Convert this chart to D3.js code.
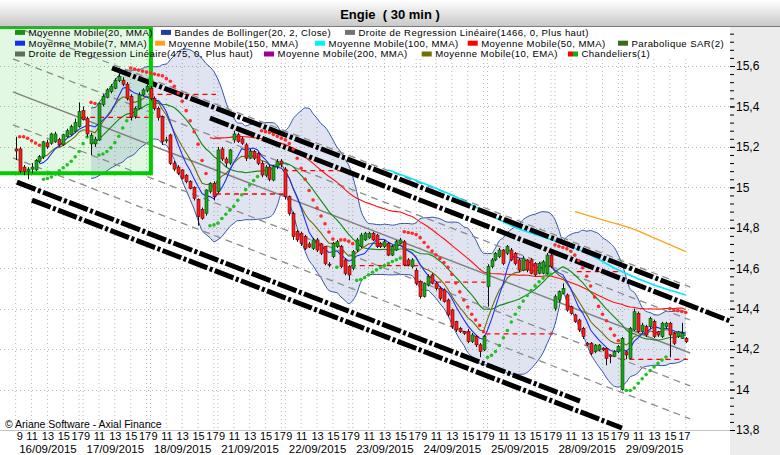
<!DOCTYPE html>
<html><head><meta charset="utf-8">
<script src="https://cdn.jsdelivr.net/npm/d3@7/dist/d3.min.js"></script>
<style>
html,body{margin:0;padding:0;background:#fff;overflow:hidden}
svg{display:block;font-family:"Liberation Sans",Arial,Helvetica,sans-serif}
</style></head><body>
<svg id="chart" width="780" height="455"></svg>
<script>
// ---------------- DATA ----------------
const title = "Engie  ( 30 min )";
const dayLabels = ["16/09/2015","17/09/2015","18/09/2015","21/09/2015","22/09/2015","23/09/2015","24/09/2015","25/09/2015","28/09/2015","29/09/2015"];
const hourLabels = [9, 11, 13, 15, 17];
const barsPerDay = 17;
const yMajorTicks = [13.8, 14.0, 14.2, 14.4, 14.6, 14.8, 15.0, 15.2, 15.4, 15.6];

const opens = [
15.19,15.19,15.10,15.08,15.09,15.086,15.128,15.15,15.22,15.218,15.225,15.237,15.21,15.25,15.26,15.275,15.30,
15.38,15.34,15.215,15.215,15.234,15.41,15.445,15.473,15.49,15.528,15.53,15.51,15.45,15.35,15.39,15.457,15.48,
15.49,15.44,15.39,15.35,15.23,15.259,15.12,15.10,15.086,15.06,15.028,15.0,14.94,14.89,14.872,14.98,15.02,
14.979,15.19,15.14,15.12,15.234,15.26,15.24,15.21,15.144,15.177,15.168,15.119,15.06,15.10,15.036,15.102,15.13,
15.09,14.954,14.871,14.781,14.773,14.756,14.72,14.698,14.740,14.72,14.707,14.62,14.657,14.707,14.707,14.641,14.608,
14.60,14.690,14.707,14.74,14.75,14.773,14.764,14.723,14.707,14.723,14.665,14.690,14.723,14.731,14.641,14.608,14.59,
14.534,14.46,14.517,14.567,14.526,14.501,14.493,14.443,14.394,14.336,14.303,14.287,14.287,14.237,14.262,14.221,14.196,
14.509,14.608,14.641,14.657,14.690,14.674,14.690,14.674,14.641,14.59,14.641,14.641,14.624,14.575,14.575,14.575,14.665,
14.402,14.443,14.476,14.468,14.41,14.369,14.344,14.303,14.229,14.229,14.187,14.196,14.204,14.204,14.171,14.163,14.187,
14.0,14.187,14.154,14.295,14.377,14.286,14.311,14.311,14.336,14.286,14.262,14.311,14.328,14.278,14.262,14.253,14.253];
const closes = [
15.18,15.08,15.078,15.09,15.10,15.132,15.152,15.225,15.20,15.264,15.264,15.21,15.26,15.28,15.30,15.32,15.375,
15.336,15.264,15.258,15.238,15.416,15.45,15.482,15.50,15.528,15.548,15.51,15.44,15.346,15.39,15.457,15.482,15.50,
15.44,15.39,15.345,15.226,15.235,15.119,15.09,15.07,15.045,15.028,14.995,14.946,14.855,14.847,14.987,15.02,14.954,
15.185,15.14,15.12,15.185,15.264,15.226,15.218,15.144,15.177,15.144,15.119,15.061,15.10,15.04,15.102,15.127,15.115,
14.954,14.871,14.756,14.740,14.723,14.698,14.705,14.740,14.690,14.674,14.624,14.616,14.723,14.731,14.608,14.575,14.567,
14.682,14.740,14.764,14.773,14.773,14.74,14.707,14.707,14.731,14.665,14.707,14.731,14.74,14.616,14.616,14.641,14.525,
14.46,14.526,14.559,14.526,14.50,14.451,14.435,14.369,14.311,14.295,14.287,14.278,14.237,14.270,14.221,14.188,14.262,
14.608,14.641,14.674,14.690,14.624,14.707,14.641,14.624,14.591,14.65,14.591,14.575,14.567,14.624,14.632,14.665,14.608,
14.459,14.484,14.50,14.393,14.377,14.336,14.295,14.262,14.22,14.179,14.22,14.22,14.196,14.154,14.163,14.187,14.212,
14.253,14.171,14.303,14.385,14.286,14.319,14.270,14.352,14.262,14.270,14.328,14.328,14.270,14.229,14.286,14.278,14.237];
const highs = [
15.25,15.20,15.11,15.10,15.12,15.14,15.16,15.23,15.235,15.27,15.275,15.245,15.265,15.29,15.31,15.34,15.42,
15.40,15.35,15.27,15.25,15.42,15.46,15.49,15.51,15.54,15.59,15.545,15.52,15.46,15.40,15.47,15.49,15.51,
15.50,15.45,15.40,15.355,15.25,15.265,15.13,15.11,15.09,15.065,15.035,15.005,14.945,14.90,14.99,15.025,15.03,
15.20,15.20,15.15,15.19,15.28,15.27,15.25,15.22,15.19,15.185,15.175,15.13,15.11,15.11,15.11,15.14,15.14,
15.10,14.96,14.88,14.79,14.78,14.765,14.73,14.75,14.75,14.725,14.71,14.63,14.73,14.74,14.715,14.65,14.615,
14.69,14.75,14.775,14.78,14.78,14.78,14.77,14.73,14.74,14.73,14.715,14.74,14.75,14.74,14.65,14.65,14.60,
14.54,14.53,14.57,14.575,14.535,14.51,14.50,14.45,14.40,14.34,14.31,14.29,14.30,14.28,14.27,14.23,14.27,
14.62,14.65,14.68,14.70,14.695,14.715,14.70,14.68,14.65,14.66,14.645,14.65,14.63,14.63,14.64,14.675,14.67,
14.47,14.49,14.525,14.475,14.415,14.375,14.35,14.31,14.235,14.235,14.225,14.225,14.21,14.21,14.175,14.195,14.22,
14.26,14.19,14.31,14.40,14.385,14.33,14.32,14.36,14.345,14.29,14.335,14.335,14.335,14.285,14.29,14.33,14.26];
const lows = [
15.135,15.07,15.06,15.04,15.07,15.08,15.12,15.14,15.19,15.21,15.22,15.20,15.205,15.245,15.255,15.27,15.295,
15.33,15.25,15.16,15.20,15.23,15.40,15.44,15.465,15.485,15.52,15.50,15.43,15.33,15.34,15.385,15.45,15.47,
15.43,15.38,15.33,15.21,15.22,15.11,15.08,15.06,15.04,15.02,14.99,14.935,14.81,14.84,14.86,14.97,14.935,
14.97,15.13,15.10,15.11,15.22,15.22,15.21,15.13,15.14,15.135,15.11,15.05,15.05,15.03,15.03,15.09,15.10,
14.94,14.86,14.74,14.73,14.71,14.69,14.70,14.69,14.68,14.665,14.615,14.605,14.65,14.70,14.60,14.565,14.54,
14.59,14.68,14.70,14.735,14.745,14.735,14.70,14.70,14.70,14.66,14.66,14.685,14.72,14.61,14.61,14.60,14.515,
14.45,14.455,14.51,14.52,14.49,14.44,14.43,14.36,14.30,14.285,14.28,14.27,14.23,14.23,14.21,14.16,14.19,
14.41,14.60,14.635,14.65,14.615,14.665,14.635,14.615,14.58,14.585,14.58,14.57,14.56,14.57,14.57,14.57,14.60,
14.39,14.43,14.47,14.385,14.37,14.33,14.285,14.25,14.215,14.17,14.18,14.19,14.19,14.12,14.13,14.16,14.18,
13.995,14.15,14.15,14.29,14.28,14.28,14.26,14.30,14.255,14.26,14.255,14.30,14.16,14.22,14.255,14.25,14.23];

// long moving averages (bar index, value)
const ma100Bars = [94, 110, 127, 136, 144, 152, 161, 169];
const ma100Vals = [15.086, 14.962, 14.794, 14.735, 14.675, 14.591, 14.517, 14.468];
const ma150Bars = [141, 148, 155, 161, 169];
const ma150Vals = [14.880, 14.839, 14.799, 14.750, 14.682];

// previous-level dashed segments
const levelStart = [17, 34, 51, 68, 85, 102, 119, 142, 153];
const levelEnd   = [33, 50, 67, 84, 101, 118, 135, 152, 169];
const levelValue = [15.346, 15.46, 14.967, 15.083, 14.613, 14.531, 14.275, 14.583, 14.149];

// regression line [bar0, price0, bar1, price1] and channel offsets (price)
const regLine = [-0.7, 15.472, 170.1, 14.181];
const regOffsets = [-0.326, -0.163, 0.163, 0.326];
// thick channel lines [bar0, price0, bar1, price1]
const channelLines = [
  [24.3, 15.590, 167.5, 14.505],
  [49.0, 15.343, 180.1, 14.339],
  [0.3, 15.026, 142.3, 13.943],
  [4.1, 14.937, 152.9, 13.810]
];
// highlighted zone (bars / prices)
const zoneBars = [-4, 34.1];
const zonePrices = [15.80, 15.07];

const legendRows = [
  [["Moyenne Mobile(20, MMA)", ["#1a8f1a"]], ["Bandes de Bollinger(20, 2, Close)", ["#1f3f9f"]], ["Droite de Regression Linéaire(1466, 0, Plus haut)", ["#737373"]]],
  [["Moyenne Mobile(7, MMA)", ["#1430e8"]], ["Moyenne Mobile(150, MMA)", ["#ffa020"]], ["Moyenne Mobile(100, MMA)", ["#00f0ff"]], ["Moyenne Mobile(50, MMA)", ["#ff0000"]], ["Parabolique SAR(2)", ["#386b1a"]]],
  [["Droite de Regression Linéaire(475, 0, Plus haut)", ["#5e6e5e"]], ["Moyenne Mobile(200, MMA)", ["#9b009b"]], ["Moyenne Mobile(10, EMA)", ["#707000"]], ["Chandeliers(1)", ["#ff0000", "#10b010"]]]
];
const legendX = [[15, 161, 345], [15, 155, 315, 467.7, 618], [15, 264, 421.7, 568]];

// ---------------- CHART ----------------
const svg = d3.select("#chart");
const W = 780, H = 455, pL = 0, pR = 730, pT = 27, pB = 430;
const N = closes.length;
const x = d3.scaleLinear().domain([0, 169]).range([15.7, 685.8]);
const y = d3.scaleLinear().domain([13.8, 15.6]).range([430, 66]);

const defs = svg.append("defs");
const g1 = defs.append("linearGradient").attr("id", "tb").attr("x1", 0).attr("y1", 0).attr("x2", 0).attr("y2", 1);
g1.append("stop").attr("offset", "0%").attr("stop-color", "#ffffff");
g1.append("stop").attr("offset", "100%").attr("stop-color", "#c9c9c9");
defs.append("clipPath").attr("id", "clip").append("rect").attr("x", pL).attr("y", pT).attr("width", pR - pL).attr("height", pB - pT);

svg.append("rect").attr("width", W).attr("height", H).attr("fill", "#fff");
// title bar
svg.append("rect").attr("x", 0).attr("y", 0).attr("width", W).attr("height", 26).attr("fill", "url(#tb)");
svg.append("line").attr("x1", 0).attr("x2", W).attr("y1", 26.5).attr("y2", 26.5).attr("stroke", "#7a7a7a");
svg.append("text").attr("x", 390).attr("y", 19).attr("text-anchor", "middle").attr("font-weight", "bold")
  .attr("font-size", 13).style("white-space", "pre").text(title);
// right panel
svg.append("rect").attr("x", pR).attr("y", 27).attr("width", W - pR).attr("height", H - 27).attr("fill", "#ececec");

const plot = svg.append("g").attr("clip-path", "url(#clip)");

// grid
const hourBars = [];
dayLabels.forEach((d, k) => hourLabels.forEach(h => hourBars.push(k * barsPerDay + (h - 9) * 2)));
plot.append("g").selectAll("line").data(hourBars).join("line")
  .attr("x1", d => x(d)).attr("x2", d => x(d)).attr("y1", pT).attr("y2", pB)
  .attr("stroke", "#b8b8b8").attr("stroke-dasharray", "1,3");
plot.append("g").selectAll("line").data(yMajorTicks.filter(v => v > 13.81)).join("line")
  .attr("x1", pL).attr("x2", pR).attr("y1", d => Math.round(y(d)) + 0.5).attr("y2", d => Math.round(y(d)) + 0.5)
  .attr("stroke", "#b8b8b8").attr("stroke-dasharray", "1,3");
svg.append("line").attr("x1", pL).attr("x2", pR).attr("y1", pB + 0.5).attr("y2", pB + 0.5).attr("stroke", "#c4c4c4");

// legend background
plot.append("rect").attr("x", pL).attr("y", pT).attr("width", pR - pL).attr("height", 31).attr("fill", "#fff");

// green zone
const zx0 = x(zoneBars[0]), zx1 = x(zoneBars[1]), zy0 = y(zonePrices[0]), zy1 = y(zonePrices[1]);
plot.append("rect").attr("x", zx0).attr("y", zy0).attr("width", zx1 - zx0).attr("height", zy1 - zy0)
  .attr("fill", "rgba(0,190,0,0.11)");

// indicators computed from the candles
function sma(arr, n) { return arr.map((v, i) => i < n - 1 ? null : d3.mean(arr.slice(i - n + 1, i + 1))); }
function ema(arr, n, from) { const a = 2 / (n + 1); let e = arr[0]; return arr.map((v, i) => { if (i > 0) e = a * v + (1 - a) * e; return i < from ? null : e; }); }
const ma7 = sma(closes, 7), ma20 = sma(closes, 20), ma50 = sma(closes, 50), ema10 = ema(closes, 10, 5);
const bbUp = [], bbLo = [];
closes.forEach((c, i) => {
  if (i < 19) { bbUp.push(null); bbLo.push(null); return; }
  const w = closes.slice(i - 19, i + 1), m = d3.mean(w);
  const sd = Math.sqrt(d3.mean(w.map(v => (v - m) * (v - m))));
  bbUp.push(m + 2 * sd); bbLo.push(m - 2 * sd);
});
// parabolic SAR
const sar = [], sarUp = [];
(function () {
  const step = 0.02, mx = 0.2;
  let up = closes[1] >= closes[0];
  let s = up ? Math.min(lows[0], lows[1]) : Math.max(highs[0], highs[1]);
  let ep = up ? Math.max(highs[0], highs[1]) : Math.min(lows[0], lows[1]);
  let af = step;
  sar[0] = null; sar[1] = s; sarUp[1] = up;
  for (let i = 2; i < N; i++) {
    s = s + af * (ep - s);
    if (up) {
      s = Math.min(s, lows[i - 1], lows[i - 2]);
      if (lows[i] < s) { up = false; s = ep; ep = lows[i]; af = step; }
      else if (highs[i] > ep) { ep = highs[i]; af = Math.min(af + step, mx); }
    } else {
      s = Math.max(s, highs[i - 1], highs[i - 2]);
      if (highs[i] > s) { up = true; s = ep; ep = highs[i]; af = step; }
      else if (lows[i] < ep) { ep = lows[i]; af = Math.min(af + step, mx); }
    }
    sar[i] = s; sarUp[i] = up;
  }
})();

const idx = d3.range(N);
// Bollinger
plot.append("path").datum(idx.filter(i => bbUp[i] != null))
  .attr("d", d3.area().x(i => x(i)).y0(i => y(bbLo[i])).y1(i => y(bbUp[i])).curve(d3.curveMonotoneX))
  .attr("fill", "rgba(60,90,170,0.16)");
[bbUp, bbLo].forEach(arr => plot.append("path").datum(idx.filter(i => arr[i] != null))
  .attr("d", d3.line().x(i => x(i)).y(i => y(arr[i])).curve(d3.curveMonotoneX))
  .attr("fill", "none").attr("stroke", "#3355aa").attr("stroke-width", 1));

// regression line and channel
const regY = (b, off) => y(regLine[1] + (regLine[3] - regLine[1]) * (b - regLine[0]) / (regLine[2] - regLine[0]) + off);
plot.append("line").attr("x1", x(regLine[0])).attr("x2", x(regLine[2]))
  .attr("y1", regY(regLine[0], 0)).attr("y2", regY(regLine[2], 0))
  .attr("stroke", "#828282").attr("stroke-width", 1.5);
plot.append("g").selectAll("line").data(regOffsets).join("line")
  .attr("x1", x(regLine[0])).attr("x2", x(regLine[2]))
  .attr("y1", d => regY(regLine[0], d)).attr("y2", d => regY(regLine[2], d))
  .attr("stroke", "#8c8c8c").attr("stroke-width", 1.3).attr("stroke-dasharray", "7,5");

// moving averages
function drawLine(vals, color, w) {
  plot.append("path").datum(idx.filter(i => vals[i] != null))
    .attr("d", d3.line().x(i => x(i)).y(i => y(vals[i])))
    .attr("fill", "none").attr("stroke", color).attr("stroke-width", w);
}
drawLine(ma50, "#ff1010", 1.1);
plot.append("path").datum(d3.zip(ma100Bars, ma100Vals))
  .attr("d", d3.line().x(d => x(d[0])).y(d => y(d[1])).curve(d3.curveMonotoneX))
  .attr("fill", "none").attr("stroke", "#00e8ff").attr("stroke-width", 1.6);
plot.append("path").datum(d3.zip(ma150Bars, ma150Vals))
  .attr("d", d3.line().x(d => x(d[0])).y(d => y(d[1])).curve(d3.curveMonotoneX))
  .attr("fill", "none").attr("stroke", "#ffa020").attr("stroke-width", 1.3);
drawLine(ma20, "#118a11", 1.1);
drawLine(ema10, "#6e6e00", 1.1);
drawLine(ma7, "#1c2cff", 1.1);

// previous-level dashed segments
plot.append("g").selectAll("line").data(levelValue).join("line")
  .attr("x1", (d, i) => x(levelStart[i]) - 2).attr("x2", (d, i) => x(levelEnd[i]) + 2)
  .attr("y1", d => y(d)).attr("y2", d => y(d))
  .attr("stroke", "#ff0000").attr("stroke-width", 1.3).attr("stroke-dasharray", "5,4");

// thick channel lines
plot.append("g").selectAll("line").data(channelLines).join("line")
  .attr("x1", d => x(d[0])).attr("y1", d => y(d[1])).attr("x2", d => x(d[2])).attr("y2", d => y(d[3]))
  .attr("stroke", "#000").attr("stroke-width", 5).attr("stroke-dasharray", "20,2.5,3,2.5");

// zone border
plot.append("path")
  .attr("d", `M${zx0},${zy0 + 1.5} L${zx1},${zy0 + 1.5} M${zx1},${zy0} L${zx1},${zy1 + 2} M${zx0},${zy1} L${zx1 + 2},${zy1}`)
  .attr("fill", "none").attr("stroke", "#00cc00").attr("stroke-width", 4);

// SAR
plot.append("g").selectAll("circle").data(idx.filter(i => sar[i] != null)).join("circle")
  .attr("cx", i => x(i)).attr("cy", i => y(sar[i])).attr("r", 1.8)
  .attr("fill", i => sarUp[i] ? "#22c022" : "#ff2a2a");

// candles
const cg = plot.append("g");
cg.selectAll("line").data(idx).join("line")
  .attr("x1", i => Math.round(x(i)) + 0.5).attr("x2", i => Math.round(x(i)) + 0.5)
  .attr("y1", i => y(Math.max(highs[i], opens[i], closes[i]))).attr("y2", i => y(Math.min(lows[i], opens[i], closes[i])))
  .attr("stroke", "#111").attr("stroke-width", 1);
cg.selectAll("rect").data(idx).join("rect")
  .attr("x", i => Math.round(x(i)) - 1)
  .attr("y", i => y(Math.max(opens[i], closes[i])))
  .attr("width", 3)
  .attr("height", i => Math.max(1, Math.abs(y(opens[i]) - y(closes[i]))))
  .attr("fill", i => closes[i] > opens[i] ? "#18a818" : (closes[i] < opens[i] ? "#ff1c1c" : "#111"))
  .attr("stroke", i => closes[i] >= opens[i] ? "#0c400c" : "#600000").attr("stroke-width", 0.6);

// legend
const lg = svg.append("g").attr("font-size", 9.6).attr("letter-spacing", 0.4);
legendRows.forEach((row, r) => {
  const cy = 32.4 + r * 10.8;
  row.forEach((item, j) => {
    const sx = legendX[r][j];
    const sw = item[1];
    sw.forEach((c, k) => lg.append("rect").attr("x", sx + k * 10 / sw.length).attr("y", cy - 2.5)
      .attr("width", 10 / sw.length).attr("height", 5).attr("fill", c));
    lg.append("text").attr("x", sx + 13.5).attr("y", cy + 3.4).attr("fill", "#000").text(item[0]);
  });
});

// y axis (right)
const fmt = v => (Math.round(v * 10) / 10).toString().replace(".", ",");
const yAxis = svg.append("g").attr("transform", `translate(${pR},0)`)
  .call(d3.axisRight(y).tickValues(yMajorTicks).tickFormat(fmt).tickSize(5).tickPadding(1));
const minorTicks = d3.range(0, 50).map(k => +(13.8 + k * 0.04).toFixed(2)).filter(v => v < 15.79);
svg.append("g").attr("transform", `translate(${pR},0)`)
  .call(d3.axisRight(y).tickValues(minorTicks).tickFormat("").tickSize(4))
  .call(g => g.select(".domain").remove());
yAxis.select(".domain").remove();
yAxis.selectAll("text").attr("font-size", 12).attr("font-family", "Liberation Sans, Arial, sans-serif").attr("fill", "#000");
svg.selectAll(".tick line").attr("stroke", "#000");

// x axis labels (hours)
const hourOf = b => hourLabels[(b % barsPerDay) / 4];
const hx = svg.append("g").attr("transform", `translate(0,${pB})`)
  .call(d3.axisBottom(x).tickValues(hourBars).tickFormat(hourOf).tickSize(0).tickPadding(2));
hx.select(".domain").remove();
hx.selectAll("text").attr("font-size", 11).attr("font-family", "Liberation Sans, Arial, sans-serif").attr("fill", "#000")
  .attr("dy", "0.71em")
  .attr("text-anchor", b => hourOf(b) === 9 ? "start" : "middle")
  .attr("dx", b => hourOf(b) === 17 ? -2 : (hourOf(b) === 9 ? 0.5 : 0));
// x axis labels (dates)
const dayCenters = dayLabels.map((d, k) => k * barsPerDay + 8);
const dxa = svg.append("g").attr("transform", `translate(0,${pB})`)
  .call(d3.axisBottom(x).tickValues(dayCenters).tickFormat((b, k) => dayLabels[k]).tickSize(0).tickPadding(15));
dxa.select(".domain").remove();
dxa.selectAll("text").attr("font-size", 11.5).attr("font-family", "Liberation Sans, Arial, sans-serif").attr("fill", "#000").attr("dy", "0.71em");

// copyright
svg.append("text").attr("x", 5).attr("y", 428).attr("font-size", 10.5).attr("fill", "#000")
  .text("© Ariane Software - Axial Finance");
</script></body></html>
